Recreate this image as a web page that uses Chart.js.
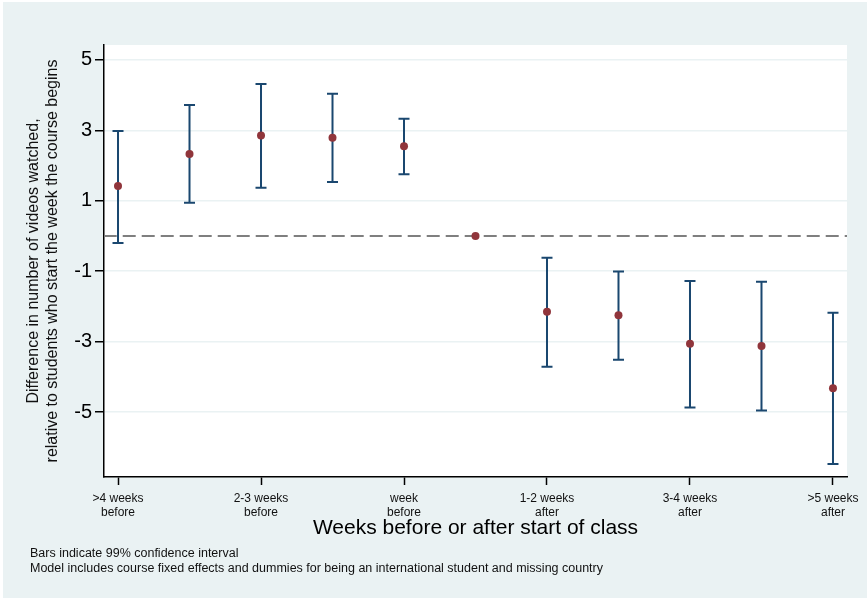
<!DOCTYPE html>
<html>
<head>
<meta charset="utf-8">
<script src="https://cdn.jsdelivr.net/npm/chart.js@4/dist/chart.umd.min.js"></script>
<style>
  html, body { margin: 0; padding: 0; background: #ffffff; }
  #wrap { width: 867px; height: 598px; }
</style>
</head>
<body>
<div id="wrap"><canvas id="coefChart" width="867" height="598"></canvas></div>
<script>
// weeks relative to start of class, 1 = ">4 weeks before" ... 11 = ">5 weeks after"
var positions = [1, 2, 3, 4, 5, 6, 7, 8, 9, 10, 11];
var estimates = [1.42, 2.33, 2.85, 2.79, 2.55, 0, -2.15, -2.25, -3.06, -3.12, -4.32];
var lower99 = [-0.20, 0.94, 1.37, 1.53, 1.75, null, -3.71, -3.51, -4.87, -4.95, -6.47];
var upper99 = [2.98, 3.72, 4.31, 4.04, 3.33, null, -0.62, -1.01, -1.28, -1.30, -2.18];

var xTickPositions = [1, 3, 5, 7, 9, 11];
var xTickLabels = [
  [">4 weeks", "before"],
  ["2-3 weeks", "before"],
  ["week", "before"],
  ["1-2 weeks", "after"],
  ["3-4 weeks", "after"],
  [">5 weeks", "after"]
];
var yTickValues = [5, 3, 1, -1, -3, -5];

var footnotes = [
  "Bars indicate 99% confidence interval",
  "Model includes course fixed effects and dummies for being an international student and missing country"
];

var FONT = "Arial, 'Liberation Sans', sans-serif";
var BG = "#EAF2F3";

var backgroundPlugin = {
  id: 'stataBackground',
  beforeDraw: function(chart) {
    var ctx = chart.ctx, a = chart.chartArea;
    ctx.save();
    ctx.fillStyle = "#ffffff";
    ctx.fillRect(0, 0, chart.width, chart.height);
    ctx.fillStyle = BG;
    ctx.fillRect(3, 2, chart.width - 3, chart.height - 2);
    ctx.fillStyle = "#ffffff";
    ctx.fillRect(a.left, a.top, a.right - a.left, a.bottom - a.top);
    ctx.restore();
  }
};

var errorBarPlugin = {
  id: 'errorBars',
  beforeDatasetsDraw: function(chart) {
    var ctx = chart.ctx;
    var xs = chart.scales.x, ys = chart.scales.y;
    ctx.save();
    ctx.strokeStyle = "#1A476F";
    ctx.lineWidth = 2;
    for (var i = 0; i < positions.length; i++) {
      if (lower99[i] === null) continue;
      var px = xs.getPixelForValue(positions[i]);
      var lo = ys.getPixelForValue(lower99[i]);
      var hi = ys.getPixelForValue(upper99[i]);
      ctx.beginPath();
      ctx.moveTo(px, lo); ctx.lineTo(px, hi);
      ctx.moveTo(px - 5.5, lo); ctx.lineTo(px + 5.5, lo);
      ctx.moveTo(px - 5.5, hi); ctx.lineTo(px + 5.5, hi);
      ctx.stroke();
    }
    ctx.restore();
  }
};

var footnotePlugin = {
  id: 'footnotes',
  afterDraw: function(chart) {
    var ctx = chart.ctx;
    ctx.save();
    ctx.fillStyle = "#111111";
    ctx.font = "12.5px " + FONT;
    ctx.textBaseline = "middle";
    ctx.textAlign = "left";
    ctx.fillText(footnotes[0], 30, 554);
    ctx.fillText(footnotes[1], 30, 569);
    ctx.restore();
  }
};

var coefChart = new Chart(document.getElementById("coefChart"), {
  type: 'scatter',
  data: {
    datasets: [
      {
        label: 'reference',
        type: 'line',
        data: [{x: 0.8, y: 0}, {x: 11.2, y: 0}],
        borderColor: "#7F7F7F",
        borderWidth: 2,
        borderDash: [13, 6],
        pointRadius: 0,
        order: 2
      },
      {
        label: 'estimate',
        data: positions.map(function(p, i) { return {x: p, y: estimates[i]}; }),
        backgroundColor: "#90353B",
        borderColor: "#90353B",
        pointRadius: 4,
        pointBorderWidth: 0,
        order: 1
      }
    ]
  },
  options: {
    responsive: false,
    animation: false,
    layout: { padding: { top: 45, right: 20, left: 4, bottom: 53 } },
    plugins: {
      legend: { display: false },
      tooltip: { enabled: false }
    },
    scales: {
      x: {
        type: 'linear',
        min: 0.804,
        max: 11.196,
        afterBuildTicks: function(scale) {
          scale.ticks = xTickPositions.map(function(v) { return {value: v}; });
        },
        afterFit: function(scale) { scale.height = 68; },
        ticks: {
          autoSkip: false,
          maxRotation: 0,
          padding: 6,
          color: "#111111",
          font: { family: FONT, size: 12 },
          callback: function(value) {
            var k = xTickPositions.indexOf(value);
            return k >= 0 ? xTickLabels[k] : '';
          }
        },
        grid: { drawOnChartArea: false, drawTicks: true, tickLength: 8, tickColor: "#000000", tickWidth: 1.5 },
        border: { display: true, color: "#000000", width: 1.5 },
        title: {
          display: true,
          text: "Weeks before or after start of class",
          color: "#000000",
          font: { family: FONT, size: 21 },
          padding: { top: 0, bottom: 4 }
        }
      },
      y: {
        min: -6.84,
        max: 5.42,
        afterBuildTicks: function(scale) {
          scale.ticks = yTickValues.map(function(v) { return {value: v}; });
        },
        afterFit: function(scale) { scale.width = 100; },
        ticks: {
          padding: 3,
          color: "#000000",
          font: { family: FONT, size: 20 }
        },
        grid: { color: BG, lineWidth: 1.5, drawTicks: true, tickLength: 9, tickColor: "#000000", tickWidth: 1.5 },
        border: { display: true, color: "#000000", width: 1.5 },
        title: {
          display: true,
          text: ["Difference in number of videos watched,", "relative to students who start the week the course begins"],
          color: "#111111",
          font: { family: FONT, size: 16, lineHeight: 1.2 },
          padding: { top: 20, bottom: 0 }
        }
      }
    }
  },
  plugins: [backgroundPlugin, errorBarPlugin, footnotePlugin]
});
</script>
</body>
</html>
